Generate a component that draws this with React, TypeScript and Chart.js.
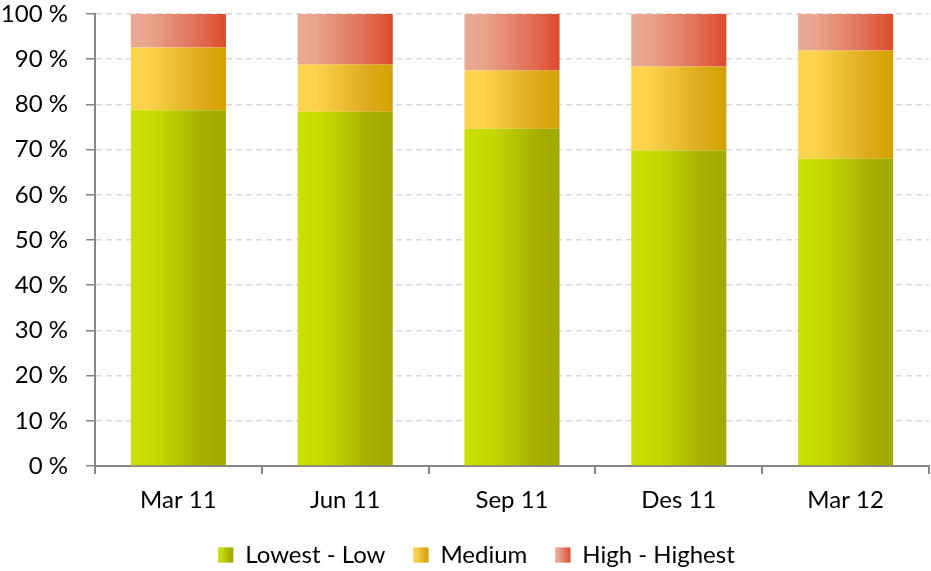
import React, { useEffect, useRef } from "react";
import { Chart, registerables } from "chart.js";

Chart.register(...registerables);

const categories = ["Mar 11", "Jun 11", "Sep 11", "Des 11", "Mar 12"];
const lowValues = [78.7, 78.4, 74.6, 69.8, 68.0];
const mediumValues = [13.9, 10.4, 12.9, 18.6, 23.9];
const highValues = [7.4, 11.2, 12.5, 11.6, 8.1];
const seriesNames = ["Lowest - Low", "Medium", "High - Highest"];

const FONT = "Lato, 'Open Sans', sans-serif";
const FONT_SIZE = 24;
const BAR_PCT = 0.57;
const LEGEND_BOX = 15;
const LEGEND_SHIFT = 12;

const greenStops: [number, string][] = [[0, "#cbdf00"], [0.3, "#c4d800"], [0.75, "#a5b000"], [1, "#a0aa00"]];
const yellowStops: [number, string][] = [[0, "#fdd44e"], [0.2, "#fbd24a"], [0.75, "#dcaa1c"], [1, "#d3a200"]];
const redStops: [number, string][] = [[0, "#e9aa92"], [0.2, "#e8a48c"], [0.7, "#e07058"], [1, "#dc4a2c"]];
const allStops = [greenStops, yellowStops, redStops];

function makeGradient(c: CanvasRenderingContext2D, x0: number, x1: number, stops: [number, string][]) {
  const g = c.createLinearGradient(x0, 0, x1, 0);
  stops.forEach(([o, col]) => g.addColorStop(o, col));
  return g;
}

function gradientFill(stops: [number, string][], fallback: string) {
  return (ctx: any) => {
    const chart = ctx.chart;
    const xs = chart.scales && chart.scales.x;
    if (ctx.dataIndex === undefined || !xs || !isFinite(xs.width)) return fallback;
    const center = xs.getPixelForValue(ctx.dataIndex);
    const w = (xs.width / categories.length) * BAR_PCT;
    if (!isFinite(center) || !isFinite(w) || w <= 0) return fallback;
    return makeGradient(chart.ctx, center - w / 2, center + w / 2, stops);
  };
}

const legendGradientPlugin = {
  id: "legendGradient",
  afterLayout(chart: any) {
    const legend = chart.legend;
    if (legend) {
      legend.left += LEGEND_SHIFT;
      legend.right += LEGEND_SHIFT;
    }
  },
  afterDraw(chart: any) {
    const legend = chart.legend;
    if (!legend || !legend.legendHitBoxes) return;
    const c = chart.ctx as CanvasRenderingContext2D;
    legend.legendHitBoxes.forEach((hb: any, i: number) => {
      const stops = allStops[i];
      if (!stops) return;
      const x = hb.left;
      const y = hb.top + Math.max((FONT_SIZE - LEGEND_BOX) / 2, 0);
      c.save();
      c.fillStyle = "#fff";
      c.fillRect(x, y, LEGEND_BOX, LEGEND_BOX);
      c.fillStyle = makeGradient(c, x, x + LEGEND_BOX, stops);
      c.fillRect(x, y, LEGEND_BOX, LEGEND_BOX);
      c.restore();
    });
  },
};

export default function App() {
  const ref = useRef<HTMLCanvasElement | null>(null);

  useEffect(() => {
    if (!ref.current) return;
    const chart = new Chart(ref.current, {
      type: "bar",
      data: {
        labels: categories,
        datasets: [
          { label: seriesNames[0], data: lowValues, backgroundColor: gradientFill(greenStops, "#b6c400") as any, borderWidth: 0 },
          { label: seriesNames[1], data: mediumValues, backgroundColor: gradientFill(yellowStops, "#e8bb2a") as any, borderWidth: 0 },
          { label: seriesNames[2], data: highValues, backgroundColor: gradientFill(redStops, "#e27a60") as any, borderWidth: 0 },
        ],
      },
      options: {
        animation: false,
        responsive: false,
        maintainAspectRatio: false,
        layout: { padding: { top: 0, right: 2, left: 0, bottom: -6 } },
        datasets: { bar: { categoryPercentage: 1, barPercentage: BAR_PCT } },
        scales: {
          x: {
            stacked: true,
            offset: true,
            grid: {
              display: true,
              drawOnChartArea: false,
              drawTicks: true,
              tickLength: 8,
              color: "#868686",
              offset: true,
              lineWidth: 2,
            },
            border: { display: true, color: "#868686", width: 2 },
            ticks: { color: "#000", font: { family: FONT, size: FONT_SIZE }, padding: 12 },
            afterFit: (s: any) => { s.height = 49; },
          },
          y: {
            stacked: true,
            min: 0,
            max: 100,
            grid: {
              color: "#d9d9d9",
              lineWidth: 1.5,
              tickLength: 9,
              tickColor: "#868686",
              drawTicks: true,
            } as any,
            border: { display: true, color: "#868686", width: 2, dash: [6, 4] } as any,
            ticks: {
              stepSize: 10,
              color: "#000",
              font: { family: FONT, size: FONT_SIZE },
              padding: 18,
              callback: (v: any) => `${v} %`,
            },
            afterFit: (s: any) => {
              s.width = 95;
              s.paddingTop = 14;
              s.paddingBottom = 14;
            },
          },
        },
        plugins: {
          legend: {
            position: "bottom",
            labels: {
              font: { family: FONT, size: FONT_SIZE },
              color: "#000",
              boxWidth: LEGEND_BOX,
              boxHeight: LEGEND_BOX,
              padding: 28,
            },
          },
          tooltip: { enabled: false },
        },
      },
      plugins: [legendGradientPlugin],
    });
    return () => chart.destroy();
  }, []);

  return (
    <div style={{ position: "fixed", left: 0, top: 0, width: 931, height: 571, background: "#fff" }}>
      <canvas ref={ref} width={931} height={571} style={{ display: "block" }} />
    </div>
  );
}
